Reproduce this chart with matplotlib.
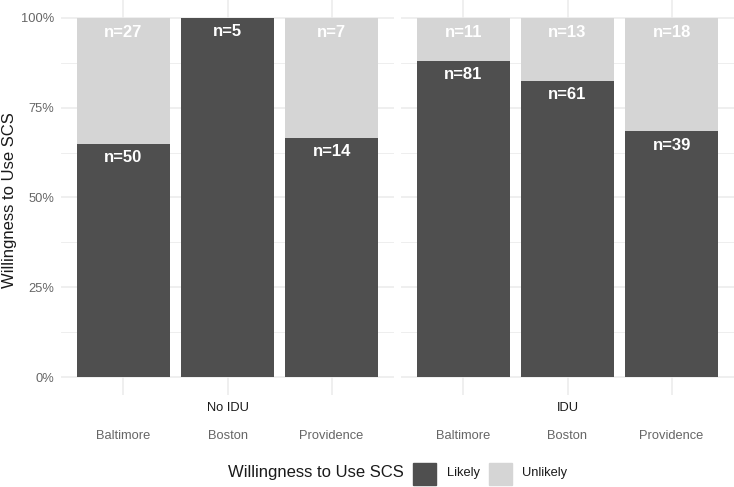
import matplotlib.pyplot as plt
from matplotlib.patches import Rectangle

plt.rcParams['font.family'] = ['Liberation Sans', 'DejaVu Sans']

###-----------------data------------------###
groups = ["No IDU", "IDU"]
cities = ["Baltimore", "Boston", "Providence"]
likely = [[50, 5, 14], [81, 61, 39]]
unlikely = [[27, 0, 7], [11, 13, 18]]
y_ticks = [0, 0.25, 0.5, 0.75, 1.0]
y_labels = ["0%", "25%", "50%", "75%", "100%"]

col_likely = "#4f4f4f"
col_unlikely = "#d5d5d5"
grid_col = "#ebebeb"
tick_col = "#666666"

W, H = 734, 487
fig = plt.figure(figsize=(W / 100, H / 100), dpi=100)

panels = [(61, 394), (401, 734)]
top_px, bot_px = 0, 395

for g, (x0, x1) in enumerate(panels):
    ax = fig.add_axes([x0 / W, 1 - bot_px / H, (x1 - x0) / W, (bot_px - top_px) / H])
    xs = list(range(1, len(cities) + 1))
    for i, x in enumerate(xs):
        tot = likely[g][i] + unlikely[g][i]
        p_l = likely[g][i] / tot
        p_u = unlikely[g][i] / tot
        ax.bar(x, p_l, width=0.9, color=col_likely, zorder=2)
        ax.bar(x, p_u, width=0.9, bottom=p_l, color=col_unlikely, zorder=2)
        ax.annotate(f"n={likely[g][i]}", (x, p_l), xytext=(0, -10),
                    textcoords="offset points", ha="center", va="center",
                    color="white", fontsize=12, fontweight="bold", zorder=3)
        if unlikely[g][i] > 0:
            ax.annotate(f"n={unlikely[g][i]}", (x, 1.0), xytext=(0, -10.5),
                        textcoords="offset points", ha="center", va="center",
                        color="white", fontsize=12, fontweight="bold", zorder=3)
    ax.set_xlim(0.4, 3.6)
    ax.set_ylim(-0.05, 1.05)
    # grid
    for yv in [0.125, 0.375, 0.625, 0.875]:
        ax.axhline(yv, color=grid_col, lw=0.6, zorder=0)
    for yv in y_ticks:
        ax.axhline(yv, color=grid_col, lw=1.1, zorder=0)
    for x in xs:
        ax.axvline(x, color=grid_col, lw=1.1, zorder=0)
    for s in ax.spines.values():
        s.set_visible(False)
    ax.tick_params(length=0)
    ax.set_xticks(xs)
    ax.set_xticklabels(cities, fontsize=9.3, color=tick_col)
    ax.tick_params(axis="x", pad=25)
    ax.set_yticks(y_ticks)
    if g == 0:
        ax.set_yticklabels(y_labels, fontsize=9.3, color=tick_col)
        ax.tick_params(axis="y", pad=5)
    else:
        ax.set_yticklabels([])
    fig.text((x0 + x1) / 2 / W, 1 - 408 / H, groups[g], ha="center", va="center",
             fontsize=9.3, color="#1a1a1a")

fig.text(10 / W, 1 - 200 / H, "Willingness to Use SCS", rotation=90,
         ha="center", va="center", fontsize=12, color="#1a1a1a")

# legend
ly = 473
fig.text(228 / W, 1 - ly / H, "Willingness to Use SCS", ha="left", va="center",
         fontsize=12, color="#1a1a1a")
for kx, col, lab, tx in [(413, col_likely, "Likely", 447), (489, col_unlikely, "Unlikely", 522)]:
    fig.patches.append(Rectangle((kx / W, 1 - 485 / H), 23 / W, 22 / H,
                                 transform=fig.transFigure, color=col))
    fig.text(tx / W, 1 - ly / H, lab, ha="left", va="center", fontsize=9.3,
             color="#1a1a1a")

plt.savefig("out.png", dpi=100)
plt.close()
